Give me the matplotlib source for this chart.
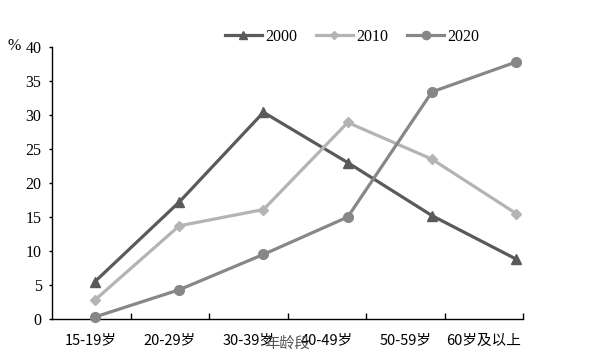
import matplotlib
matplotlib.use("Agg")
import matplotlib.pyplot as plt
import numpy as np

categories = ["15-19岁", "20-29岁", "30-39岁", "40-49岁", "50-59岁", "60岁及以上"]
series_names = ["2000", "2010", "2020"]
v2000 = [5.5, 17.2, 30.4, 23.0, 15.2, 8.8]
v2010 = [2.8, 13.7, 16.1, 28.9, 23.5, 15.5]
v2020 = [0.3, 4.3, 9.5, 15.0, 33.4, 37.8]
yticks = [0, 5, 10, 15, 20, 25, 30, 35, 40]
xlabel = "年龄段"
ylabel = "%"

colors = ["#5a5a5a", "#b4b4b4", "#878787"]
markers = ["^", "D", "o"]
msizes = [7, 5, 7]

fig = plt.figure(figsize=(6, 3.6), dpi=100)
ax = fig.add_axes([52/600, 1-319/360, (523-52)/600, (319-47)/360])
serif = ["Liberation Serif", "DejaVu Serif"]
cjk = ["Noto Sans CJK SC", "DejaVu Sans"]

# category axis
ax.set_xlim(-0.5, 5.5)
ax.set_ylim(0, 40)
ax.set_xticks(np.arange(len(categories)))
ax.set_xticklabels(categories, fontfamily=cjk, fontsize=10.5)
ax.set_xticks(np.arange(len(categories)) + 0.5, minor=True)
ax.tick_params(axis="x", which="major", length=0, pad=10.5)
ax.tick_params(axis="x", which="minor", direction="in", length=4, width=1)
ax.set_yticks(yticks)
ax.set_yticklabels([str(t) for t in yticks], fontfamily=serif, fontsize=11.5)
ax.tick_params(axis="y", direction="out", length=2.5, width=1, pad=5)
for s in ["top", "right"]:
    ax.spines[s].set_visible(False)
for s in ["left", "bottom"]:
    ax.spines[s].set_linewidth(1)
ax.set_xlabel(xlabel, fontfamily=cjk, fontsize=11, color="#555555", labelpad=-9)
fig.text(8/600, 1-46/360, ylabel, fontfamily=serif, fontsize=11.5, va="center", ha="left")

# data axis
ax2 = ax.twiny()
ax2.set_xlim(-0.51, 5.08)
ax2.set_ylim(0, 40)
ax2.axis("off")
x = np.arange(len(categories))
handles = []
for vals, name, c, m, ms in zip([v2000, v2010, v2020], series_names, colors, markers, msizes):
    h, = ax2.plot(x, vals, color=c, lw=2.3, marker=m, markersize=ms, label=name,
                  clip_on=False, zorder=3)
    handles.append(h)

leg = fig.legend(handles=handles, loc="center", bbox_to_anchor=(352/600, 1-37/360), ncol=3,
                 frameon=False, prop={"family": serif, "size": 11.5},
                 handlelength=2.3, handletextpad=0.2, columnspacing=1.2, borderpad=0,
                 markerscale=0.85)

fig.savefig("out.png", dpi=100)
